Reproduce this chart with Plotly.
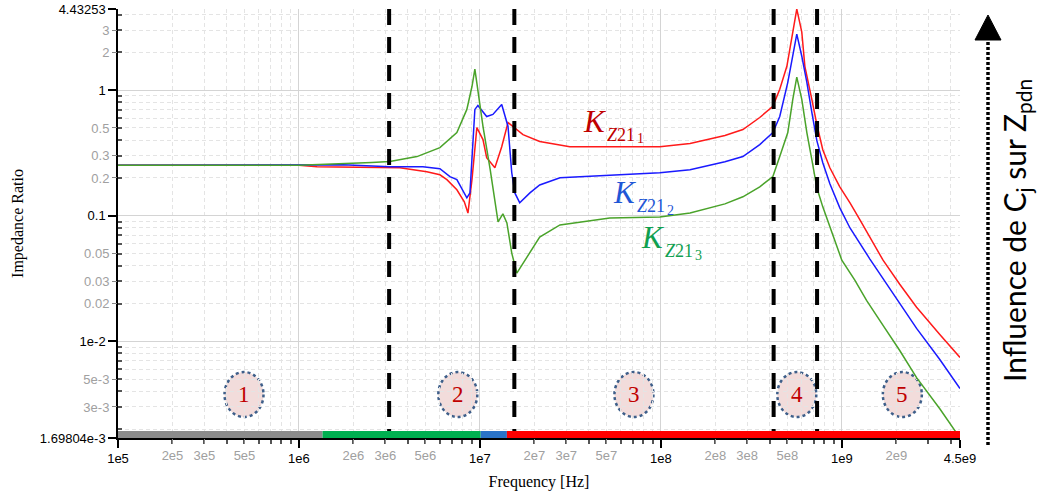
import math
import plotly.graph_objects as go

# ---------------- data ----------------
freq_k1 = [1e5, 1.0e6, 1.26e6, 2.91e6, 3.61e6, 5.09e6, 6.01e6, 6.57e6, 7.46e6, 8.2e6,
           8.59e6, 9.04e6, 9.62e6, 1.04e7, 1.09e7, 1.21e7, 1.32e7, 1.43e7, 1.52e7, 1.73e7,
           2.14e7, 2.77e7, 3.14e7, 9.87e7, 1.45e8, 2.26e8, 2.84e8, 3.52e8, 4.16e8, 4.54e8,
           4.97e8, 5.36e8, 5.64e8, 6.01e8, 6.25e8, 6.83e8, 7.28e8, 7.85e8, 8.59e8, 9.75e8,
           1.11e9, 1.26e9, 1.43e9, 1.69e9, 2.09e9, 2.59e9, 3.48e9, 4.5e9]
k1 = [0.252, 0.252, 0.246, 0.241, 0.241, 0.224, 0.212, 0.194, 0.161, 0.129,
      0.105, 0.194, 0.504, 0.404, 0.290, 0.241, 0.355, 0.553, 0.514, 0.443,
      0.390, 0.369, 0.355, 0.355, 0.376, 0.435, 0.486, 0.606, 0.743, 1.016,
      1.55, 2.90, 4.43253, 2.90, 1.55, 0.845, 0.533, 0.336, 0.241, 0.170,
      0.1267, 0.0926, 0.0677, 0.0443, 0.0285, 0.01866, 0.01134, 0.00743]

freq_k2 = [1e5, 1.0e6, 1.75e6, 3.18e6, 4.84e6, 6.01e6, 6.83e6, 7.46e6, 8.47e6, 8.81e6,
           9.38e6, 9.75e6, 1.04e7, 1.09e7, 1.18e7, 1.32e7, 1.43e7, 1.50e7, 1.56e7, 1.66e7,
           1.89e7, 2.14e7, 2.77e7, 4.60e7, 9.87e7, 1.45e8, 2.26e8, 2.84e8, 3.52e8, 4.16e8,
           4.54e8, 5.03e8, 5.36e8, 5.64e8, 6.01e8, 6.41e8, 6.83e8, 7.28e8, 7.85e8, 8.59e8,
           9.75e8, 1.11e9, 1.43e9, 1.69e9, 2.09e9, 2.59e9, 3.48e9, 4.5e9]
k2 = [0.252, 0.252, 0.255, 0.246, 0.246, 0.237, 0.205, 0.194, 0.139, 0.152,
      0.703, 0.756, 0.68, 0.617, 0.641, 0.770, 0.514, 0.220, 0.152, 0.127,
      0.152, 0.176, 0.201, 0.208, 0.220, 0.2326, 0.2696, 0.296, 0.369, 0.460,
      0.617, 1.155, 1.865, 2.80, 1.865, 1.155, 0.665, 0.397, 0.2647, 0.180,
      0.1155, 0.0799, 0.0452, 0.0318, 0.0201, 0.01267, 0.00716, 0.00420]

freq_k3 = [1e5, 1.0e6, 2.53e6, 3.18e6, 4.49e6, 6.01e6, 7.46e6, 8.47e6, 9.04e6, 9.38e6,
           1.04e7, 1.14e7, 1.26e7, 1.34e7, 1.41e7, 1.50e7, 1.60e7, 1.82e7, 2.14e7, 2.77e7,
           5.22e7, 9.87e7, 1.45e8, 2.26e8, 2.84e8, 3.52e8, 4.16e8, 4.54e8, 5.03e8, 5.36e8,
           5.64e8, 6.01e8, 6.41e8, 6.83e8, 7.28e8, 7.85e8, 8.59e8, 1.0e9, 1.18e9, 1.37e9,
           1.69e9, 2.09e9, 2.59e9, 3.48e9, 4.5e9]
k3 = [0.252, 0.252, 0.265, 0.270, 0.296, 0.349, 0.460, 0.703, 1.07, 1.47,
      0.514, 0.233, 0.0893, 0.1034, 0.0877, 0.0504, 0.0349, 0.0469, 0.0677, 0.0845,
      0.0961, 0.0979, 0.105, 0.1244, 0.1415, 0.170, 0.205, 0.296, 0.460, 0.845,
      1.27, 0.845, 0.460, 0.280, 0.167, 0.1177, 0.0814, 0.0443, 0.0307, 0.0212,
      0.01339, 0.00845, 0.00514, 0.0029, 0.00169804]

series_names = ["K_Z21_1", "K_Z21_2", "K_Z21_3"]
series_colors = ["#ff1a1a", "#1a1aff", "#4aa32a"]
label_colors = ["#c00000", "#1f57d6", "#10a050"]
label_index = ["1", "2", "3"]

# region boundaries (dashed lines) and bottom band
boundaries = [3.15e6, 1.55e7, 4.2e8, 7.3e8]
band_edges = [1e5, 1.35e6, 1.01e7, 1.41e7, 4.5e9]
band_colors = ["#8c8c8c", "#00b050", "#2a73c8", "#ff0000"]

# region circles
region_labels = ["1", "2", "3", "4", "5"]
region_freqs = [4.97e5, 7.55e6, 7.10e7, 5.64e8, 2.16e9]

# tick labels
x_major = [1e5, 1e6, 1e7, 1e8, 1e9, 4.5e9]
x_major_text = ["1e5", "1e6", "1e7", "1e8", "1e9", "4.5e9"]
x_minor_lab = [2e5, 3e5, 5e5, 2e6, 3e6, 5e6, 2e7, 3e7, 5e7, 2e8, 3e8, 5e8, 2e9]
x_minor_text = ["2e5", "3e5", "5e5", "2e6", "3e6", "5e6", "2e7", "3e7", "5e7",
                "2e8", "3e8", "5e8", "2e9"]
y_major = [4.43253, 1, 0.1, 0.01, 1.69804e-3]
y_major_text = ["4.43253", "1", "0.1", "1e-2", "1.69804e-3"]
y_minor_lab = [3, 2, 0.5, 0.3, 0.2, 0.05, 0.03, 0.02, 5e-3, 3e-3]
y_minor_text = ["3", "2", "0.5", "0.3", "0.2", "0.05", "0.03", "0.02", "5e-3", "3e-3"]

# ---------------- layout helpers ----------------
W, H = 1037, 493
L, R, T, B = 118, 960, 9, 438


def px(x):
    return (x - L) / (R - L)


def py(y):
    return (B - y) / (B - T)


xmin, xmax = min(freq_k1), max(freq_k1)
ymin = min(k1 + k2 + k3)
ymax = max(k1 + k2 + k3)
xr = [math.log10(xmin) - 1e-6, math.log10(xmax) + 1e-6]
yr = [math.log10(ymin) - 1e-6, math.log10(ymax) + 1e-6]


def fx_paper(f):
    return (math.log10(f) - xr[0]) / (xr[1] - xr[0])


def minor_vals(lo, hi):
    out = []
    for e in range(-4, 11):
        for m in range(2, 10):
            v = m * 10 ** e
            if lo < v < hi:
                out.append(v)
    return out


x_minor_all = minor_vals(xmin, xmax)
y_minor_all = minor_vals(ymin, ymax)

fig = go.Figure()
for fx, fy, nm, col in [(freq_k1, k1, series_names[0], series_colors[0]),
                        (freq_k2, k2, series_names[1], series_colors[1]),
                        (freq_k3, k3, series_names[2], series_colors[2])]:
    fig.add_trace(go.Scatter(x=fx, y=fy, mode="lines", name=nm,
                             line=dict(color=col, width=1.5), hoverinfo="skip"))
# empty trace on the overlay axes (carries the grey minor tick labels)
fig.add_trace(go.Scatter(x=[], y=[], xaxis="x2", yaxis="y2", showlegend=False))

tickfont_major = dict(family="Liberation Sans", size=13, color="#000000")
tickfont_minor = dict(family="Liberation Sans", size=13, color="#a0a0a0")
titlefont = dict(family="Liberation Serif", size=16, color="#000000")

fig.update_layout(
    width=W, height=H,
    margin=dict(l=L, r=W - R, t=T, b=H - B, autoexpand=False),
    paper_bgcolor="white", plot_bgcolor="white",
    showlegend=False, hovermode=False,
    xaxis=dict(type="log", range=xr, tickmode="array", tickvals=x_major,
               ticktext=x_major_text, tickfont=tickfont_major,
               ticks="outside", ticklen=8, tickwidth=1.5, tickcolor="black",
               showline=True, linecolor="black", linewidth=1.5,
               showgrid=True, gridcolor="#d4d4d4", gridwidth=1, zeroline=False,
               minor=dict(tickmode="array", tickvals=x_minor_all, ticks="outside",
                          ticklen=4, tickcolor="#555555", showgrid=True,
                          gridcolor="#e4e4e4", griddash="4px,3px", gridwidth=1),
               title=dict(text="Frequency [Hz]", font=titlefont, standoff=10)),
    yaxis=dict(type="log", range=yr, tickmode="array", tickvals=y_major,
               ticktext=y_major_text, tickfont=tickfont_major,
               ticks="outside", ticklen=8, tickwidth=1.5, tickcolor="black",
               showline=True, linecolor="black", linewidth=1.5,
               showgrid=True, gridcolor="#d4d4d4", gridwidth=1, zeroline=False,
               minor=dict(tickmode="array", tickvals=y_minor_all, ticks="inside",
                          ticklen=4, tickcolor="#555555", showgrid=True,
                          gridcolor="#e4e4e4", griddash="4px,3px", gridwidth=1),
               title=dict(text="Impedance Ratio", font=titlefont, standoff=12)),
    xaxis2=dict(type="log", range=xr, overlaying="x", anchor="y2", side="bottom",
                tickmode="array", tickvals=x_minor_lab, ticktext=x_minor_text,
                tickfont=tickfont_minor, ticks="outside", ticklen=5,
                tickcolor="#888888", showgrid=False, showline=False, zeroline=False),
    yaxis2=dict(type="log", range=yr, overlaying="y", anchor="x2", side="left",
                tickmode="array", tickvals=y_minor_lab, ticktext=y_minor_text,
                tickfont=tickfont_minor, ticks="outside", ticklen=5,
                tickcolor="#888888", showgrid=False, showline=False, zeroline=False),
)

shapes = []
# region circles (between grid and traces)
half_w = 19.5 / (R - L)
for f in region_freqs:
    cx = fx_paper(f)
    shapes.append(dict(type="circle", xref="paper", yref="paper",
                       x0=cx - half_w, x1=cx + half_w,
                       y0=py(417), y1=py(372), layer="between",
                       fillcolor="#f2dcdb",
                       line=dict(color="#3e5f8a", width=2.5, dash="dot")))
# dashed boundaries
for f in boundaries:
    shapes.append(dict(type="line", xref="x", yref="paper", x0=f, x1=f, y0=1, y1=0,
                       layer="above", line=dict(color="black", width=4, dash="16px,12px")))
# bottom coloured band
for i, c in enumerate(band_colors):
    shapes.append(dict(type="rect", xref="x", yref="paper", x0=band_edges[i],
                       x1=band_edges[i + 1], y0=0, y1=py(431), layer="above",
                       fillcolor=c, line=dict(width=0)))
# right side dotted arrow
shapes.append(dict(type="line", xref="paper", yref="paper", x0=px(988), x1=px(988),
                   y0=py(445), y1=py(40), line=dict(color="black", width=3.5, dash="3px,2px")))
shapes.append(dict(type="path", xref="paper", yref="paper",
                   path=f"M {px(975)} {py(40)} L {px(1001)} {py(40)} L {px(988)} {py(15)} Z",
                   fillcolor="black", line=dict(color="black", width=1)))
fig.update_layout(shapes=shapes)

ann = []
for lab, f in zip(region_labels, region_freqs):
    ann.append(dict(x=fx_paper(f), y=py(394.5), xref="paper", yref="paper", text=lab,
                    showarrow=False, font=dict(family="Liberation Serif", size=23, color="#c00000"),
                    xanchor="center", yanchor="middle"))

k_pos = [(595, 121), (625, 192), (653, 237)]
for (kx, ky), col, idx in zip(k_pos, label_colors, label_index):
    ann.append(dict(x=px(kx), y=py(ky), xref="paper", yref="paper", text="<i>K</i>",
                    showarrow=False, xanchor="center", yanchor="middle",
                    font=dict(family="Liberation Serif", size=31, color=col)))
    ann.append(dict(x=px(kx + 10), y=py(ky + 14), xref="paper", yref="paper",
                    text="<i>Z</i>21", showarrow=False, xanchor="left", yanchor="middle",
                    font=dict(family="Liberation Serif", size=18, color=col)))
    ann.append(dict(x=px(kx + 40), y=py(ky + 18), xref="paper", yref="paper",
                    text=idx, showarrow=False, xanchor="left", yanchor="middle",
                    font=dict(family="Liberation Serif", size=14, color=col)))

ann.append(dict(x=px(1016), y=py(231), xref="paper", yref="paper",
                text="Influence de C<sub>j</sub> sur Z<sub>pdn</sub>", textangle=-90,
                showarrow=False, xanchor="center", yanchor="middle",
                font=dict(family="Lato", size=30, color="black")))
fig.update_layout(annotations=ann)

fig.write_html("out.html", config={"displayModeBar": False},
               post_script="document.body.style.margin='0px';")
